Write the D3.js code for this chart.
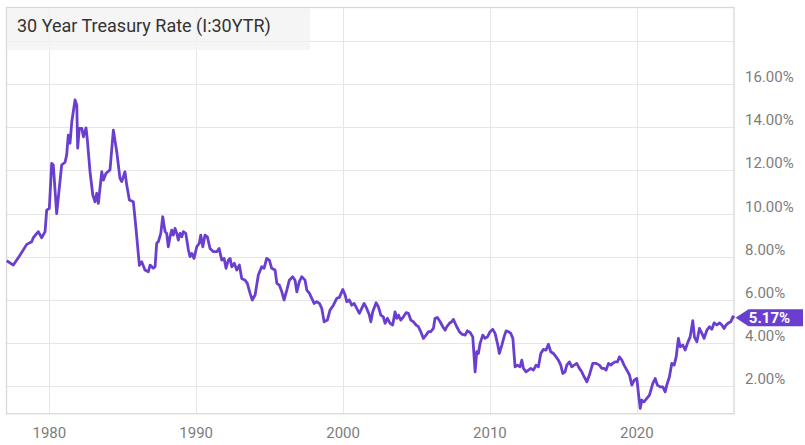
<!DOCTYPE html>
<html>
<head>
<meta charset="utf-8">
<script src="https://cdn.jsdelivr.net/npm/d3@7"></script>
<style>
  html, body { margin: 0; padding: 0; background: #fff; }
  svg { display: block; font-family: Roboto, "Noto Sans", sans-serif; }
  .grid line { stroke: #e6e6e6; stroke-width: 1; }
  .tick-label { fill: #7d7d7d; font-size: 15px; }
</style>
</head>
<body>
<div id="chart"></div>
<script>
// Monthly-ish readings of the 30 year treasury rate (decimal year, percent)
const years = [
  1977.10, 1977.55, 1978.00, 1978.46, 1978.80, 1978.91, 1979.25, 1979.48, 1979.71, 1979.82,
  1980.00, 1980.16, 1980.27, 1980.50, 1980.84, 1981.07, 1981.18, 1981.29, 1981.41, 1981.53,
  1981.75, 1981.87, 1981.93, 1982.04, 1982.21, 1982.32, 1982.50, 1982.59, 1982.77, 1982.96,
  1983.11, 1983.23, 1983.34, 1983.57, 1983.68, 1983.86, 1984.13, 1984.36, 1984.59, 1984.81,
  1984.93, 1985.15, 1985.27, 1985.45, 1985.72, 1985.90, 1986.13, 1986.29, 1986.51, 1986.74,
  1986.86, 1987.08, 1987.20, 1987.31, 1987.42, 1987.59, 1987.72, 1987.88, 1987.99, 1988.10,
  1988.22, 1988.33, 1988.44, 1988.56, 1988.68, 1988.78, 1988.90, 1989.02, 1989.12, 1989.29,
  1989.47, 1989.58, 1989.70, 1989.85, 1990.04, 1990.21, 1990.31, 1990.45, 1990.60, 1990.76,
  1990.94, 1991.17, 1991.40, 1991.56, 1991.74, 1991.90, 1992.03, 1992.19, 1992.31, 1992.42,
  1992.60, 1992.76, 1992.94, 1993.10, 1993.33, 1993.48, 1993.67, 1993.82, 1994.01, 1994.23,
  1994.46, 1994.62, 1994.80, 1994.98, 1995.14, 1995.37, 1995.49, 1995.66, 1995.83, 1995.98,
  1996.17, 1996.34, 1996.57, 1996.73, 1996.85, 1997.02, 1997.19, 1997.41, 1997.53, 1997.71,
  1997.87, 1998.03, 1998.21, 1998.39, 1998.55, 1998.71, 1998.93, 1999.11, 1999.34, 1999.57,
  1999.75, 1999.98, 2000.14, 2000.25, 2000.43, 2000.59, 2000.75, 2000.93, 2001.11, 2001.27,
  2001.43, 2001.61, 2001.79, 2001.89, 2002.02, 2002.25, 2002.40, 2002.57, 2002.74, 2002.86,
  2003.02, 2003.20, 2003.38, 2003.54, 2003.66, 2003.77, 2003.93, 2004.11, 2004.29, 2004.45,
  2004.61, 2004.79, 2004.97, 2005.13, 2005.29, 2005.47, 2005.65, 2005.81, 2005.97, 2006.15,
  2006.26, 2006.42, 2006.61, 2006.79, 2006.95, 2007.06, 2007.24, 2007.40, 2007.51, 2007.63,
  2007.74, 2007.92, 2008.08, 2008.31, 2008.46, 2008.65, 2008.83, 2008.99, 2009.10, 2009.21,
  2009.33, 2009.51, 2009.67, 2009.83, 2010.01, 2010.19, 2010.35, 2010.51, 2010.64, 2010.81,
  2010.96, 2011.10, 2011.26, 2011.42, 2011.56, 2011.71, 2011.87, 2012.05, 2012.17, 2012.28,
  2012.46, 2012.62, 2012.78, 2012.96, 2013.14, 2013.30, 2013.46, 2013.64, 2013.82, 2013.98,
  2014.14, 2014.32, 2014.50, 2014.66, 2014.82, 2014.96, 2015.11, 2015.23, 2015.41, 2015.57,
  2015.73, 2015.91, 2016.09, 2016.25, 2016.41, 2016.60, 2016.77, 2017.00, 2017.23, 2017.45,
  2017.62, 2017.77, 2017.91, 2018.07, 2018.23, 2018.36, 2018.52, 2018.68, 2018.81, 2018.98,
  2019.13, 2019.32, 2019.50, 2019.66, 2019.82, 2020.00, 2020.11, 2020.23, 2020.34, 2020.50,
  2020.68, 2020.86, 2021.09, 2021.25, 2021.40, 2021.59, 2021.77, 2021.93, 2022.04, 2022.22,
  2022.38, 2022.54, 2022.68, 2022.83, 2022.95, 2023.13, 2023.29, 2023.45, 2023.63, 2023.81,
  2023.92, 2024.09, 2024.26, 2024.43, 2024.58, 2024.77, 2024.94, 2025.11, 2025.26, 2025.45,
  2025.63, 2025.79, 2025.94, 2026.08, 2026.24, 2026.40, 2026.54, 2026.65
];
const rates = [
  7.81, 7.61, 8.07, 8.57, 8.69, 8.88, 9.16, 8.88, 9.16, 10.16,
  10.24, 12.33, 12.25, 10.00, 12.25, 12.38, 12.71, 13.64, 13.26, 14.26,
  15.27, 15.03, 13.03, 13.95, 13.95, 13.56, 13.97, 13.41, 11.94, 10.86,
  10.55, 10.94, 10.47, 11.94, 11.55, 11.87, 12.02, 13.87, 12.87, 11.63,
  11.48, 11.94, 11.32, 10.63, 10.55, 9.31, 7.60, 7.76, 7.38, 7.30,
  7.61, 7.46, 7.53, 8.62, 8.69, 9.08, 9.85, 9.16, 9.08, 8.46,
  8.92, 9.23, 9.00, 9.31, 9.08, 8.77, 9.08, 8.92, 9.16, 9.08,
  8.31, 8.00, 8.15, 7.92, 8.46, 8.62, 9.00, 8.46, 9.00, 8.92,
  8.38, 8.23, 8.23, 8.38, 7.84, 7.92, 7.46, 7.84, 7.92, 7.53,
  7.69, 7.38, 7.61, 6.99, 6.91, 6.76, 6.30, 5.99, 6.22, 7.15,
  7.53, 7.46, 7.92, 7.84, 7.46, 7.38, 6.76, 6.68, 6.37, 5.99,
  6.45, 6.91, 7.07, 6.91, 6.37, 6.84, 7.07, 6.91, 6.45, 6.30,
  6.07, 5.83, 5.91, 5.83, 5.60, 4.98, 5.06, 5.52, 5.75, 6.07,
  6.11, 6.48, 6.22, 5.91, 5.99, 5.75, 5.83, 5.60, 5.37, 5.60,
  5.83, 5.60, 5.29, 4.98, 5.44, 5.86, 5.68, 5.29, 5.21, 4.91,
  5.14, 4.91, 4.83, 5.44, 5.14, 5.29, 5.06, 5.21, 5.40, 5.37,
  5.06, 4.98, 4.83, 4.75, 4.52, 4.21, 4.36, 4.52, 4.52, 4.67,
  5.14, 5.18, 4.98, 4.75, 4.59, 4.75, 4.91, 4.98, 5.09, 4.91,
  4.75, 4.52, 4.41, 4.36, 4.56, 4.48, 4.28, 2.66, 3.59, 3.51,
  3.98, 4.36, 4.21, 4.28, 4.52, 4.63, 4.44, 3.98, 3.51, 3.90,
  4.28, 4.56, 4.52, 4.44, 4.21, 2.89, 2.97, 2.89, 3.20, 2.82,
  2.66, 2.74, 2.82, 2.74, 2.97, 2.89, 3.51, 3.70, 3.67, 3.94,
  3.59, 3.51, 3.35, 3.20, 2.97, 2.58, 2.66, 2.97, 3.12, 2.89,
  2.97, 3.05, 2.82, 2.66, 2.43, 2.20, 2.51, 3.05, 3.05, 2.97,
  2.82, 2.82, 2.74, 3.05, 2.97, 3.05, 3.12, 3.12, 3.35, 3.20,
  2.97, 2.74, 2.51, 2.04, 2.27, 2.35, 1.66, 0.96, 1.35, 1.27,
  1.43, 1.58, 2.12, 2.35, 2.04, 1.96, 1.96, 1.73, 2.04, 2.43,
  3.05, 2.97, 3.35, 4.21, 3.82, 3.90, 3.67, 3.98, 4.28, 5.03,
  4.28, 4.05, 4.67, 4.44, 4.21, 4.59, 4.75, 4.63, 4.93, 4.83,
  4.93, 4.83, 4.67, 4.83, 4.93, 4.98, 5.21, 5.17
];
const xTicks = [1980, 1990, 2000, 2010, 2020];
const yGrid = [2, 4, 6, 8, 10, 12, 14, 16, 18];
const yLabels = [2, 4, 6, 8, 10, 12, 14, 16];
const lastLabel = "5.17%";
const title = "30 Year Treasury Rate (I:30YTR)";

const width = 805, height = 445;
const plot = { left: 6, right: 734.5, top: 7, bottom: 413.3 };
const purple = "#6a3fcf";

const data = years.map((yr, i) => ({ year: yr, value: rates[i] }));

const x = d3.scaleLinear()
  .domain([1977.05, 2026.65])
  .range([plot.left, plot.right]);

const y = d3.scaleLinear()
  .domain([0.735, 19.58])
  .range([plot.bottom, plot.top]);

const svg = d3.select("#chart").append("svg")
  .attr("width", width)
  .attr("height", height);

// grid lines
const grid = svg.append("g").attr("class", "grid");
grid.selectAll(".vgrid").data(xTicks).enter().append("line")
  .attr("x1", d => Math.round(x(d)) + 0.5).attr("x2", d => Math.round(x(d)) + 0.5)
  .attr("y1", plot.top).attr("y2", plot.bottom);
grid.selectAll(".hgrid").data(yGrid).enter().append("line")
  .attr("x1", plot.left).attr("x2", plot.right)
  .attr("y1", d => Math.round(y(d)) + 0.5).attr("y2", d => Math.round(y(d)) + 0.5);

// plot frame
svg.append("rect")
  .attr("x", plot.left + 0.5).attr("y", plot.top + 0.5)
  .attr("width", plot.right - plot.left - 1).attr("height", plot.bottom - plot.top)
  .attr("fill", "none").attr("stroke", "#d8d8d8").attr("stroke-width", 1.3);

// y labels on the right
svg.selectAll(".ylab").data(yLabels).enter().append("text")
  .attr("class", "tick-label")
  .attr("x", 745)
  .attr("y", d => y(d) - 2)
  .text(d => d.toFixed(2) + "%");

// x labels under the plot
svg.selectAll(".xlab").data(xTicks).enter().append("text")
  .attr("class", "tick-label")
  .attr("x", d => x(d))
  .attr("y", 438)
  .attr("text-anchor", "middle")
  .text(d => d);

// the rate line
svg.append("path")
  .datum(data)
  .attr("fill", "none")
  .attr("stroke", purple)
  .attr("stroke-width", 2.8)
  .attr("stroke-linejoin", "round")
  .attr("d", d3.line().x(d => x(d.year)).y(d => y(d.value)));

// last value flag
const last = data[data.length - 1];
const fx = x(last.year) + 1, fy = y(last.value);
svg.append("path")
  .attr("fill", purple)
  .attr("d", `M${fx},${fy} L${fx + 13},${fy - 8.5} L803,${fy - 8.5} L803,${fy + 8.5} L${fx + 13},${fy + 8.5} Z`);
svg.append("text")
  .attr("x", fx + 34)
  .attr("y", fy + 5.5)
  .attr("text-anchor", "middle")
  .attr("fill", "#fff")
  .attr("font-size", "15px")
  .attr("font-weight", "bold")
  .text(lastLabel);

// title box
svg.append("rect")
  .attr("x", plot.left + 1).attr("y", plot.top + 1)
  .attr("width", 303).attr("height", 42)
  .attr("fill", "#f2f2f2").attr("opacity", 0.8);
svg.append("text")
  .attr("x", 17).attr("y", 32)
  .attr("fill", "#333")
  .attr("font-size", "18px")
  .text(title);
</script>
</body>
</html>
